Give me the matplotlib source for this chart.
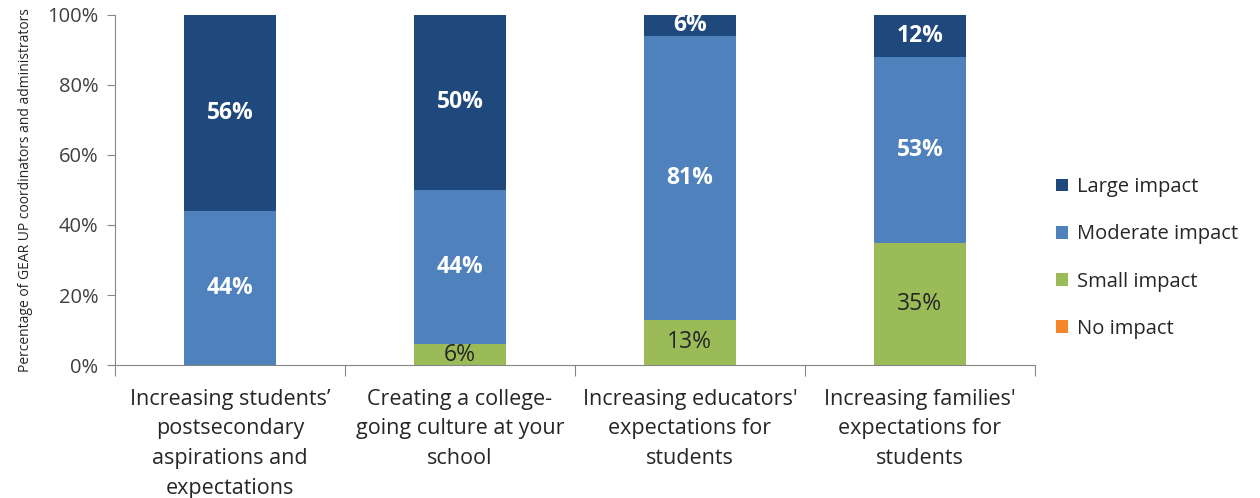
import numpy as np
import matplotlib
matplotlib.use('Agg')
import matplotlib.pyplot as plt

# survey responses, percent of respondents per outcome
categories = [u'Increasing students\u2019\npostsecondary\naspirations and\nexpectations',
              u'Creating a college-\ngoing culture at your\nschool',
              u"Increasing educators'\nexpectations for\nstudents",
              u"Increasing families'\nexpectations for\nstudents"]
no_impact = [0, 0, 0, 0]
small_impact = [0, 6, 13, 35]
moderate_impact = [44, 44, 81, 53]
large_impact = [56, 50, 6, 12]

plt.rcParams['font.family'] = ['Open Sans', 'DejaVu Sans']
plt.rcParams['axes.edgecolor'] = '#868686'
plt.rcParams['xtick.color'] = '#868686'
plt.rcParams['ytick.color'] = '#868686'

fig = plt.figure(figsize=(12.6, 4.98), dpi=100)
ax = fig.add_axes([0.0913, 0.267, 0.730, 0.703])

x = np.arange(len(categories))
width = 0.4
series = [('No impact', no_impact, '#F7862A', '#404040', 'normal'),
          ('Small impact', small_impact, '#9BBB59', '#262626', 'normal'),
          ('Moderate impact', moderate_impact, '#4F81BD', 'white', 'bold'),
          ('Large impact', large_impact, '#1F497D', 'white', 'bold')]

bottom = np.zeros(len(categories))
handles = []
for name, vals, color, tcolor, weight in series:
    vals = np.array(vals, dtype=float)
    bars = ax.bar(x, vals, width, bottom=bottom, color=color, label=name,
                  edgecolor='none')
    handles.append(bars)
    for xi, b, v in zip(x, bottom, vals):
        if v > 0:
            ax.text(xi, b + v / 2, '%d%%' % v, ha='center', va='center',
                    color=tcolor, fontsize=16.5, fontweight=weight)
    bottom += vals

ax.set_xlim(-0.5, len(categories) - 0.5)
ax.set_ylim(0, 100)
ax.set_yticks(np.arange(0, 101, 20))
ax.set_yticklabels(['%d%%' % v for v in range(0, 101, 20)], color='#404040', fontsize=14.5)
ax.set_xticks(np.arange(-0.5, len(categories), 1.0))
ax.set_xticklabels([])
ax.tick_params(axis='x', which='major', length=8, direction='out')
ax.set_xticks(x, minor=True)
ax.set_xticklabels(categories, minor=True, color='#262626', fontsize=15.5,
                   linespacing=1.55)
ax.tick_params(axis='x', which='minor', length=0, pad=17)
ax.tick_params(axis='y', length=6, direction='out', pad=6)
ax.spines['top'].set_visible(False)
ax.spines['right'].set_visible(False)
ax.set_ylabel('Percentage of GEAR UP coordinators and administrators',
              fontsize=10, color='#262626', labelpad=10)

leg = ax.legend(handles[::-1], [s[0] for s in series][::-1], loc='center left',
                bbox_to_anchor=(0.838, 0.482), bbox_transform=fig.transFigure,
                frameon=False, fontsize=14.5, borderaxespad=0, borderpad=0,
                handlelength=0.6, handleheight=0.6, handletextpad=0.45,
                labelspacing=1.35, labelcolor='#262626')

fig.savefig('out.png', dpi=100)
